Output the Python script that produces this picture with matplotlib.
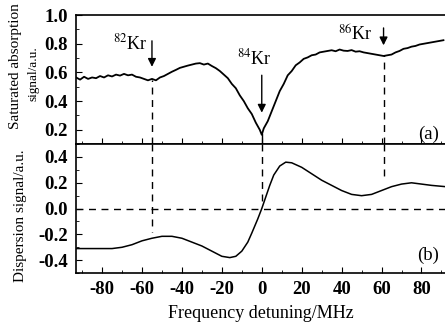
import matplotlib
matplotlib.use('Agg')
import matplotlib.pyplot as plt
from matplotlib.ticker import MultipleLocator

plt.rcParams['font.family'] = ['Liberation Serif', 'DejaVu Serif']
plt.rcParams['mathtext.fontset'] = 'stix'

# absorption trace (a)
freq_a = [-93, -91, -89, -87, -85, -83, -81, -79, -77, -75, -73, -71, -69, -67,
          -65, -63, -61, -59, -57, -55, -53, -51, -49, -47, -45, -43, -41, -39,
          -37, -35, -33, -31, -29, -27, -25, -23, -21, -19, -17, -15, -13, -11,
          -9, -7, -5, -3, -1, 0, 1, 3, 5, 7, 9, 11, 13, 15, 17, 19, 21, 23, 25,
          27, 29, 31, 33, 35, 37, 39, 41, 43, 45, 47, 49, 51, 53, 55, 57, 59,
          61, 63, 65, 67, 69, 71, 73, 75, 77, 79, 81, 83, 85, 87, 89, 91]
absorb = [0.565, 0.55, 0.57, 0.555, 0.565, 0.56, 0.575, 0.565, 0.58, 0.572,
          0.585, 0.578, 0.59, 0.58, 0.585, 0.57, 0.565, 0.555, 0.545, 0.555,
          0.545, 0.565, 0.575, 0.59, 0.605, 0.618, 0.632, 0.64, 0.648, 0.655,
          0.662, 0.665, 0.655, 0.662, 0.645, 0.63, 0.61, 0.585, 0.56, 0.52,
          0.49, 0.44, 0.40, 0.35, 0.31, 0.25, 0.20, 0.165, 0.21, 0.26, 0.33,
          0.40, 0.47, 0.52, 0.58, 0.61, 0.65, 0.67, 0.695, 0.705, 0.72, 0.725,
          0.74, 0.745, 0.75, 0.755, 0.748, 0.76, 0.752, 0.75, 0.756, 0.745,
          0.748, 0.74, 0.735, 0.73, 0.725, 0.72, 0.715, 0.72, 0.725, 0.74,
          0.75, 0.765, 0.77, 0.78, 0.785, 0.795, 0.80, 0.805, 0.81, 0.815,
          0.82, 0.825]

# dispersion trace (b)
freq_b = [-93, -85, -75, -70, -65, -60, -55, -50, -45, -40, -35, -30, -25,
          -20, -16, -13, -10, -7, -5, -2, 0, 2, 4, 6, 9, 12, 15, 20, 25, 30,
          35, 40, 45, 50, 55, 60, 65, 70, 75, 80, 85, 92]
disp = [-0.31, -0.31, -0.31, -0.30, -0.28, -0.25, -0.23, -0.215, -0.215,
        -0.23, -0.26, -0.29, -0.33, -0.37, -0.38, -0.37, -0.33, -0.26, -0.19,
        -0.08, 0.0, 0.09, 0.18, 0.26, 0.33, 0.36, 0.355, 0.32, 0.27, 0.22,
        0.18, 0.14, 0.11, 0.10, 0.11, 0.14, 0.17, 0.19, 0.20, 0.19, 0.18, 0.17]

peak_names = ['$^{82}$Kr', '$^{84}$Kr', '$^{86}$Kr']

fig = plt.figure(figsize=(4.45, 3.29), dpi=100)
ax1 = fig.add_axes([0.171, 0.562, 0.83, 0.392])
ax2 = fig.add_axes([0.171, 0.170, 0.83, 0.392], sharex=ax1)

ax1.plot(freq_a, absorb, color='black', lw=1.3)
ax2.plot(freq_b, disp, color='black', lw=1.1)

ax1.set_xlim(-93, 92)
ax1.set_ylim(0.1, 1.0)
ax2.set_ylim(-0.5, 0.5)

dash = (0, (5, 4))
# vertical marker lines
ax1.plot([-55, -55], [0.1, 0.55], color='black', lw=1, linestyle=dash)
ax2.plot([-55, -55], [0.5, -0.18], color='black', lw=1, linestyle=dash)
ax1.plot([0, 0], [0.1, 0.17], color='black', lw=1)
ax2.plot([0, 0], [0.5, 0.05], color='black', lw=1, linestyle=dash)
ax1.plot([61, 61], [0.1, 0.72], color='black', lw=1, linestyle=dash)
ax2.plot([61, 61], [0.5, 0.24], color='black', lw=1, linestyle=dash)
ax2.axhline(0, color='black', lw=1, linestyle=dash)

# arrows and labels for isotopes
arrow = dict(arrowstyle='-|>', color='black', lw=1, mutation_scale=12)
ax1.annotate('', xy=(-55, 0.62), xytext=(-55, 0.84), arrowprops=arrow)
ax1.annotate('', xy=(0, 0.30), xytext=(0, 0.60), arrowprops=arrow)
ax1.annotate('', xy=(61, 0.77), xytext=(61, 0.93), arrowprops=arrow)
ax1.text(-66, 0.80, peak_names[0], fontsize=13, ha='center', va='center')
ax1.text(-4, 0.70, peak_names[1], fontsize=13, ha='center', va='center')
ax1.text(47, 0.86, peak_names[2], fontsize=13, ha='center', va='center')

ax1.text(89, 0.17, '(a)', fontsize=13.5, ha='right', va='center')
ax2.text(89, -0.36, '(b)', fontsize=13.5, ha='right', va='center')

for ax in (ax1, ax2):
    ax.spines['right'].set_visible(False)
    ax.spines['top'].set_linewidth(1.2)
    ax.spines['left'].set_linewidth(1.2)
    ax.spines['bottom'].set_linewidth(1.2)
    ax.xaxis.set_major_locator(MultipleLocator(20))
    ax.xaxis.set_minor_locator(MultipleLocator(10))
    ax.yaxis.set_major_locator(MultipleLocator(0.2))
    ax.yaxis.set_minor_locator(MultipleLocator(0.1))
    ax.tick_params(direction='in', which='major', length=4, labelsize=13.5,
                   pad=6)
    ax.tick_params(direction='in', which='minor', length=2)

ax1.tick_params(labelbottom=False)
ax1.set_yticks([0.2, 0.4, 0.6, 0.8, 1.0])
ax1.set_yticklabels(['0.2', '0.4', '0.6', '0.8', '1.0'], fontweight='bold')
ax2.set_yticks([-0.4, -0.2, 0.0, 0.2, 0.4])
ax2.set_yticklabels(['-0.4', '-0.2', '0.0', '0.2', '0.4'], fontweight='bold')
ax2.set_xticks([-80, -60, -40, -20, 0, 20, 40, 60, 80])
ax2.set_xticklabels(['-80', '-60', '-40', '-20', '0', '20', '40', '60', '80'],
                    fontweight='bold')

fig.text(0.034, 0.80, 'Saturated absorption', rotation=90, fontsize=11,
         ha='center', va='center')
fig.text(0.076, 0.775, 'signal/a.u.', rotation=90, fontsize=9.5,
         ha='center', va='center')
fig.text(0.047, 0.343, 'Dispersion signal/a.u.', rotation=90, fontsize=11,
         ha='center', va='center')
ax2.set_xlabel('Frequency detuning/MHz', fontsize=13, labelpad=5)

fig.savefig('out.png', dpi=100)
